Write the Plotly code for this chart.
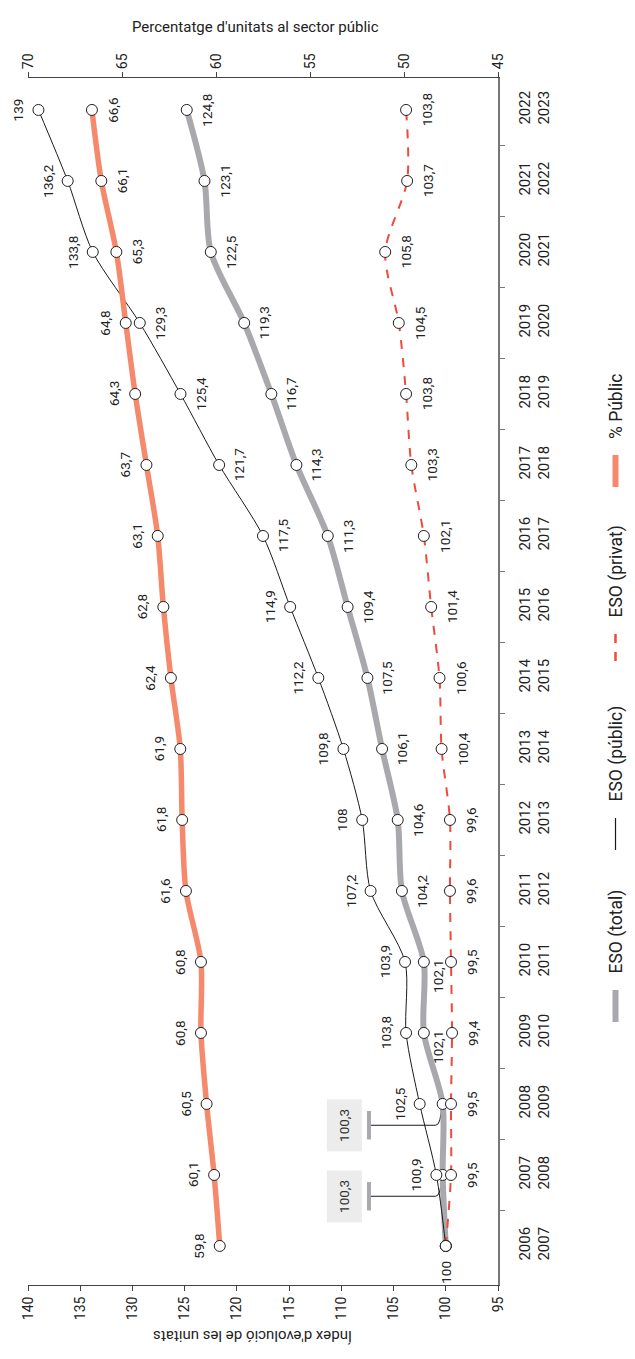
import plotly.graph_objects as go

CURSOS = ["2006<br>2007", "2007<br>2008", "2008<br>2009", "2009<br>2010",
          "2010<br>2011", "2011<br>2012", "2012<br>2013", "2013<br>2014",
          "2014<br>2015", "2015<br>2016", "2016<br>2017", "2017<br>2018",
          "2018<br>2019", "2019<br>2020", "2020<br>2021", "2021<br>2022",
          "2022<br>2023"]
ESO_TOTAL = [100, 100.3, 100.3, 102.1, 102.1, 104.2, 104.6, 106.1, 107.5,
             109.4, 111.3, 114.3, 116.7, 119.3, 122.5, 123.1, 124.8]
ESO_PUBLIC = [100, 100.9, 102.5, 103.8, 103.9, 107.2, 108, 109.8, 112.2,
              114.9, 117.5, 121.7, 125.4, 129.3, 133.8, 136.2, 139]
ESO_PRIVAT = [100, 99.5, 99.5, 99.4, 99.5, 99.6, 99.6, 100.4, 100.6,
              101.4, 102.1, 103.3, 103.8, 104.5, 105.8, 103.7, 103.8]
PCT_PUBLIC = [59.8, 60.1, 60.5, 60.8, 60.8, 61.6, 61.8, 61.9, 62.4,
              62.8, 63.1, 63.7, 64.3, 64.8, 65.3, 66.1, 66.6]

TICKS_INDEX = [95, 100, 105, 110, 115, 120, 125, 130, 135, 140]
TICKS_PCT = [45, 50, 55, 60, 65, 70]

# costat de l'etiqueta a la imatge girada: -1 esquerra, +1 dreta
COSTAT_PUBLIC = [0, -1, -1, -1, -1, -1, -1, -1, -1, -1, 1, 1, 1, 1, -1, -1, -1]
COSTAT_PCT = [-1] * 14 + [1, 1, 1]
CRIDES_TOTAL = [1, 2]  # cursos amb l'etiqueta del total en requadre

K = list(range(len(CURSOS)))

GRIS = "#A9A9AD"
SALMO = "#F4896B"
VERMELL = "#EF4A3A"
NEGRE = "#1A1A1A"
TEXT = "#222222"
EIX = "#444444"
FONT = "Roboto"

# geometria (píxels de la figura; la pàgina afegeix 8 px de marge)
W, H = 627, 1351
ESQ, DRE, DALT, BAIX = 18, 490, 70, 1277
PX_UNITAT = (DRE - ESQ) / 45


def fmt(v):
    return f"{v:g}".replace(".", ",")


def py(yp):
    return (BAIX - yp) / (BAIX - DALT)


def px(xp):
    return (xp - ESQ) / (DRE - ESQ)


fig = go.Figure()
marca = dict(size=11, color="white", line=dict(color="#222", width=1))

fig.add_trace(go.Scatter(
    x=ESO_TOTAL, y=K, mode="lines+markers", name="ESO (total)",
    line=dict(color=GRIS, width=6, shape="spline", smoothing=0.8), marker=marca))
fig.add_trace(go.Scatter(
    x=ESO_PRIVAT, y=K, mode="lines+markers", name="ESO (privat)",
    line=dict(color=VERMELL, width=2, dash="dash", shape="spline", smoothing=0.8),
    marker=marca))
fig.add_trace(go.Scatter(
    x=ESO_PUBLIC, y=K, mode="lines+markers", name="ESO (públic)",
    line=dict(color=NEGRE, width=1, shape="spline", smoothing=0.8), marker=marca))
fig.add_trace(go.Scatter(
    x=PCT_PUBLIC, y=K, xaxis="x2", mode="lines+markers", name="% Públic",
    line=dict(color=SALMO, width=5.5, shape="spline", smoothing=0.8), marker=marca))


def etiqueta(x, k, text, xref="x", dx=0, dy=0):
    fig.add_annotation(x=x, y=k, xref=xref, yref="y", text=text, textangle=-90,
                       showarrow=False, xshift=dx, yshift=dy,
                       font=dict(family=FONT, size=13.5, color=TEXT))


# etiquetes de dades
etiqueta(ESO_TOTAL[0], 0, fmt(ESO_TOTAL[0]), dy=-26)
for k in K[1:]:
    etiqueta(ESO_PUBLIC[k], k, fmt(ESO_PUBLIC[k]), dx=20 * COSTAT_PUBLIC[k])
    etiqueta(ESO_PRIVAT[k], k, fmt(ESO_PRIVAT[k]), dx=21)
    if k in CRIDES_TOTAL:
        continue
    if k in (3, 4):
        etiqueta(ESO_TOTAL[k], k, fmt(ESO_TOTAL[k]), dx=14, dy=-14)
    else:
        etiqueta(ESO_TOTAL[k], k, fmt(ESO_TOTAL[k]), dx=20)
for k in K:
    etiqueta(PCT_PUBLIC[k], k, fmt(PCT_PUBLIC[k]), xref="x2", dx=21 * COSTAT_PCT[k])

# requadres amb línia guia per al total
for k in CRIDES_TOTAL:
    v = ESO_TOTAL[k]
    yl = k - 0.3
    xb = v + 74 / PX_UNITAT
    xc = v + 7 / PX_UNITAT
    fig.add_annotation(x=v, y=yl, xref="x", yref="y", text=fmt(v), textangle=-90,
                       showarrow=False, xshift=-98, bgcolor="#ECECEC", borderpad=9,
                       font=dict(family=FONT, size=13.5, color="#333"))
    fig.add_shape(type="line", xref="x", yref="y", x0=xb, x1=xb,
                  y0=yl - 0.2, y1=yl + 0.2, line=dict(color=GRIS, width=4))
    fig.add_shape(type="path", xref="x", yref="y", layer="below",
                  path=f"M {xb},{yl} L {xc},{yl} Q {v + 0.15},{yl} {v + 0.1},{k}",
                  line=dict(color=NEGRE, width=1))

# llegenda girada
LLEGENDA = [("% Públic", SALMO, 6, "solid", 463),
            ("ESO (privat)", VERMELL, 2.5, "dash", 642),
            ("ESO (públic)", NEGRE, 1.2, "solid", 826),
            ("ESO (total)", GRIS, 6, "solid", 998)]
XL = 608
for nom, color, gruix, estil, yc in LLEGENDA:
    fig.add_shape(type="line", xref="paper", yref="paper", x0=px(XL), x1=px(XL),
                  y0=py(yc - 16), y1=py(yc + 16),
                  line=dict(color=color, width=gruix, dash=estil))
    fig.add_annotation(x=px(XL), y=py(yc - 30), xref="paper", yref="paper",
                       text=nom, textangle=-90, showarrow=False,
                       xanchor="center", yanchor="bottom",
                       font=dict(family=FONT, size=17.5, color=TEXT))

# títols dels eixos
fig.add_annotation(x=px(246), y=py(8), xref="paper", yref="paper",
                   text="Percentatge d'unitats al sector públic", showarrow=False,
                   font=dict(family=FONT, size=15, color=TEXT))
fig.add_annotation(x=px(244), y=py(1339), xref="paper", yref="paper",
                   text="Índex d'evolució de les unitats", textangle=180,
                   showarrow=False, font=dict(family=FONT, size=15, color=TEXT))

eix_x = dict(showgrid=False, zeroline=False, showline=True, linecolor=EIX,
             linewidth=1, ticks="outside", ticklen=5, tickcolor=EIX,
             tickangle=-90, tickfont=dict(family=FONT, size=14, color=TEXT))

fig.update_layout(
    width=W, height=H, showlegend=False,
    margin=dict(l=ESQ, r=W - DRE, t=DALT, b=H - BAIX),
    paper_bgcolor="white", plot_bgcolor="white",
    xaxis=dict(range=[140, 95], tickvals=TICKS_INDEX, side="bottom", **eix_x),
    xaxis2=dict(range=[70, 45], tickvals=TICKS_PCT, side="top", overlaying="x",
                anchor="y", **eix_x),
    yaxis=dict(range=[-0.55, 16.45], side="right", tickvals=K, ticktext=CURSOS,
               tickangle=-90, ticks="", showgrid=False, zeroline=False,
               showline=True, linecolor="#777", linewidth=1.5,
               ticklabelstandoff=12,
               tickfont=dict(family=FONT, size=15, color=TEXT),
               minor=dict(tickvals=[k + 0.5 for k in K[:-1]], ticks="outside",
                          ticklen=5, tickcolor="#777", showgrid=False)),
)

fig.write_html("out.html")
